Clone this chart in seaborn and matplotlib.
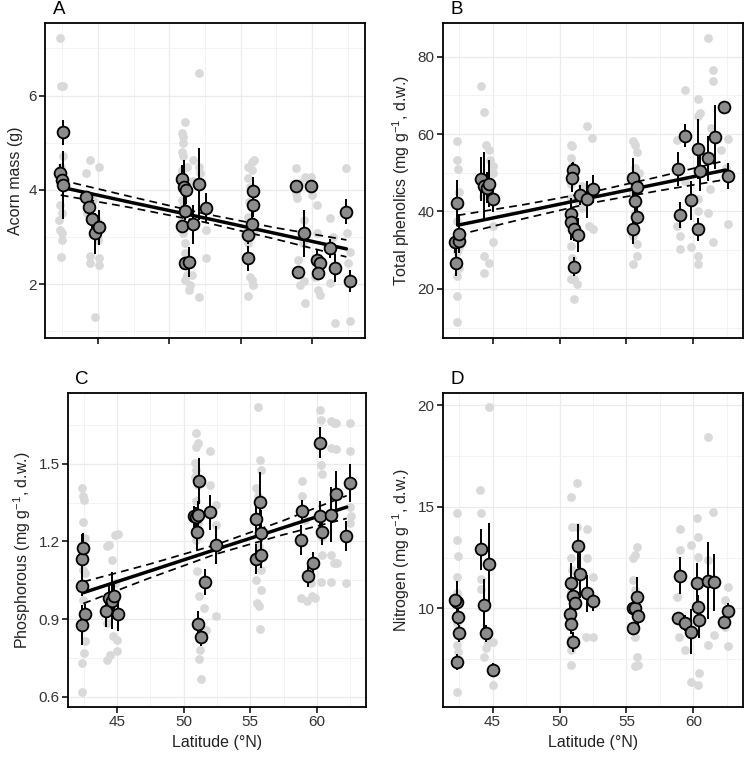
import numpy as np
import matplotlib
matplotlib.use('Agg')
import matplotlib.pyplot as plt
from matplotlib.ticker import MultipleLocator
import seaborn as sns

sns.set_theme(style='whitegrid')
plt.rcParams['font.family'] = ['Liberation Sans', 'DejaVu Sans']
plt.rcParams['mathtext.fontset'] = 'custom'
plt.rcParams['mathtext.rm'] = 'Liberation Sans'
plt.rcParams['mathtext.it'] = 'Liberation Sans:italic'
plt.rcParams['mathtext.bf'] = 'Liberation Sans:bold'

# ---------------------------------------------------------
# A. Acorn mass
# ---------------------------------------------------------
a_raw_lat = [42.35, 42.42, 42.58, 42.54, 42.42, 42.35, 42.47, 42.3, 42.35, 42.47, 42.47, 42.4, 42.58,
             44.17, 44.45, 45.1, 44.26, 44.92, 45.03, 44.45, 44.45, 45.1, 45.1, 44.8, 44.68,
             50.87, 50.94, 51.1, 50.94, 50.87, 50.98, 50.87, 51.22, 50.87, 50.94, 50.87, 50.98, 51.1, 51.1,
             51.22, 51.1, 51.45, 51.4, 51.68, 52.1, 52.1, 52.08, 52.55, 52.55, 51.57, 51.68, 52.15,
             55.53, 55.81, 55.93, 55.77, 55.53, 55.65, 55.6, 55.53, 55.53, 55.65, 55.77, 55.53, 55.83, 55.88,
             58.87, 58.87, 58.91, 59.15, 59.5, 59.89, 59.96, 59.43, 59.38, 59.03, 59.15, 59.43, 59.5,
             60.31, 60.36, 60.2, 60.43, 60.55, 61.25, 61.48, 61.25, 61.6, 62.37, 62.65, 62.65, 62.41, 62.53]
a_raw_val = [7.22, 6.2, 6.2, 4.71, 4.49, 3.68, 3.51, 3.36, 3.15, 3.08, 2.94, 2.57, 4.07,
             4.35, 4.64, 4.49, 3.51, 3.36, 2.94, 2.59, 2.45, 2.55, 2.41, 1.31, 3.79,
             5.2, 5.13, 5.45, 4.99, 4.81, 4.71, 4.42, 4.49, 3.79, 3.65, 3.43, 3.08, 2.87, 2.66,
             2.2, 2.09, 1.99, 1.87, 4.64, 4.49, 6.47, 1.74, 2.55, 3.15, 2.2, 4.18, 4.35,
             4.49, 4.6, 4.64, 4.42, 4.25, 4.07, 3.75, 3.43, 2.87, 2.16, 2.09, 1.75, 1.99, 3.08,
             4.46, 3.94, 3.82, 4.14, 4.28, 4.28, 3.89, 3.36, 2.87, 2.52, 1.99, 2.06, 1.6,
             3.68, 3.08, 2.16, 1.88, 1.77, 3.4, 3.01, 2.02, 1.17, 4.46, 2.69, 1.21, 3.08, 2.44]
a_mean_lat = [42.58, 42.35, 42.47, 42.54, 44.17, 44.4, 44.57, 44.8, 45.1,
              50.87, 51.03, 51.15, 51.1, 50.87, 51.1, 51.4, 51.68, 52.1, 52.55,
              55.88, 55.88, 55.8, 55.53, 55.53,
              58.87, 59.9, 59.4, 59.0, 60.36, 60.55, 60.43, 61.25, 61.6, 62.37, 62.65]
a_mean_val = [5.22, 4.35, 4.21, 4.1, 3.86, 3.63, 3.39, 3.08, 3.21,
              4.23, 4.07, 4.0, 3.56, 3.24, 2.45, 2.48, 3.27, 4.13, 3.61,
              3.98, 3.68, 3.28, 3.05, 2.55,
              4.08, 4.08, 3.08, 2.25, 2.52, 2.44, 2.23, 2.76, 2.34, 3.54, 2.07]
a_mean_se = [0.27, 0.2, 0.25, 0.72, 0.1, 0.15, 0.2, 0.44, 0.37,
             0.3, 0.56, 0.3, 0.2, 0.1, 0.1, 0.32, 0.42, 0.76, 0.32,
             0.3, 0.25, 0.35, 0.2, 0.26,
             0.05, 0.05, 0.5, 0.05, 0.2, 0.15, 0.1, 0.2, 0.3, 0.26, 0.23]
a_fit_lat = [42.4, 47.4, 52.4, 57.4, 62.4]
a_fit_mid = [4.06, 3.73, 3.41, 3.08, 2.75]
a_fit_lo = [3.89, 3.62, 3.32, 2.96, 2.58]
a_fit_hi = [4.21, 3.85, 3.50, 3.20, 2.94]

# ---------------------------------------------------------
# B. Total phenolics
# ---------------------------------------------------------
b_raw_lat = [42.33, 42.33, 42.4, 42.48, 42.33, 42.33, 42.33, 42.33, 42.33, 42.48, 42.48,
             44.13, 44.38, 44.5, 44.7, 44.83, 45.0, 45.05, 44.38, 44.38, 44.7, 45.0, 45.05, 44.26,
             50.82, 50.94, 50.82, 50.94, 50.82, 50.82, 50.82, 50.94, 50.82, 51.06, 51.06, 51.31,
             51.44, 51.68, 52.05, 52.43, 52.18, 52.47, 51.68,
             55.47, 55.64, 55.77, 55.64, 55.47, 55.64, 55.52, 55.77, 55.47, 55.77, 55.9,
             58.74, 59.36, 58.98, 58.98, 58.74, 59.36, 59.8, 60.35, 60.35, 60.47, 60.35, 60.35,
             60.35, 60.35, 60.59, 61.09, 61.46, 61.46, 61.09, 61.46, 61.34, 61.21, 62.57, 62.57,
             62.45, 62.08]
b_raw_val = [58.1, 53.4, 51.0, 45.0, 37.5, 29.4, 23.4, 18.2, 11.4, 25.5, 30.7,
             72.3, 65.8, 57.3, 56.0, 53.4, 51.7, 50.0, 28.5, 24.2, 26.8, 36.2, 32.0, 44.0,
             57.3, 56.8, 53.8, 51.7, 47.0, 43.5, 31.1, 28.1, 22.5, 22.5, 17.4, 21.2,
             41.8, 41.0, 62.0, 59.0, 36.2, 35.4, 46.5,
             58.1, 57.3, 55.3, 51.3, 44.8, 39.7, 33.7, 31.5, 26.4, 28.5, 50.0,
             58.5, 71.4, 33.7, 30.2, 36.2, 47.8, 30.7, 69.0, 64.6, 65.4, 43.1, 40.1,
             28.5, 26.4, 55.1, 84.7, 76.6, 73.6, 39.7, 32.0, 61.6, 45.7, 58.7, 36.7,
             51.3, 56.0]
b_mean_lat = [42.33, 42.23, 42.48, 42.48, 42.28, 44.13, 44.38, 44.55, 44.75, 45.07,
              50.82, 50.82, 50.99, 50.94, 51.06, 51.11, 51.36, 51.56, 52.05, 52.5,
              55.47, 55.77, 55.64, 55.79, 55.47,
              58.86, 59.4, 58.98, 59.78, 60.35, 60.47, 60.35, 61.1, 61.6, 62.28, 62.58]
b_mean_val = [42.2, 32.2, 32.4, 34.3, 26.8, 48.4, 46.5, 46.1, 47.2, 43.3,
              39.4, 37.3, 50.8, 48.7, 35.4, 25.7, 33.9, 44.2, 43.1, 45.9,
              48.7, 46.4, 42.7, 38.6, 35.4,
              51.0, 59.6, 39.0, 42.9, 56.1, 50.4, 35.4, 53.8, 59.2, 67.1, 49.1]
b_mean_se = [6.0, 3.0, 3.0, 5.0, 3.5, 5.8, 8.8, 4.0, 6.0, 3.4,
             4.0, 4.7, 2.0, 3.8, 3.0, 2.5, 4.3, 2.6, 4.7, 3.6,
             5.0, 3.0, 3.0, 2.5, 3.9,
             4.3, 3.0, 3.4, 5.0, 7.7, 5.0, 3.0, 5.8, 8.2, 0.5, 3.4]
b_fit_lat = [42.4, 47.4, 52.4, 57.4, 62.4]
b_fit_mid = [36.45, 40.0, 43.6, 47.15, 50.7]
b_fit_lo = [33.9, 38.2, 42.2, 45.35, 48.25]
b_fit_hi = [39.0, 41.8, 45.0, 48.95, 53.15]

# ---------------------------------------------------------
# C. Phosphorous
# ---------------------------------------------------------
c_raw_lat = [42.33, 42.46, 42.51, 42.46, 42.58, 42.41, 42.58, 42.51, 42.41, 42.58, 42.51, 42.33, 42.33,
             44.2, 44.4, 44.83, 45.07, 44.58, 44.2, 44.25, 44.45, 44.7, 44.95, 45.0, 44.83,
             50.94, 51.06, 50.94, 50.81, 50.94, 50.81, 51.06, 50.94, 51.06, 50.94, 50.99, 51.14,
             51.19, 51.14, 51.31, 51.56, 51.68, 51.98, 51.98, 52.43, 52.43, 52.43,
             55.55, 55.75, 55.8, 55.42, 55.55, 55.67, 55.42, 55.47, 55.62, 55.8, 55.75, 55.8,
             58.87, 58.92, 58.79, 59.12, 59.29, 59.54, 59.66, 59.86, 60.21, 60.29, 60.29, 60.36,
             60.36, 60.41, 60.29, 61.04, 61.29, 61.46, 61.04, 61.46, 61.04, 61.29, 61.54, 61.04,
             62.16, 62.53, 62.53, 62.53, 62.61, 62.53]
c_raw_val = [1.406, 1.374, 1.361, 1.275, 1.213, 1.091, 1.078, 1.026, 0.975, 0.814, 0.769, 0.73, 0.617,
             1.181, 1.187, 1.226, 1.23, 1.129, 0.885, 0.743, 0.762, 0.833, 0.82, 0.775, 1.039,
             1.618, 1.58, 1.567, 1.503, 1.477, 1.451, 1.419, 1.355, 1.271, 1.206, 1.084, 0.988,
             0.782, 0.745, 0.668, 0.942, 0.859, 1.548, 1.419, 0.91, 1.264, 1.342,
             1.721, 1.515, 1.477, 1.406, 1.374, 1.181, 1.052, 0.962, 0.949, 1.013, 0.861, 1.091,
             1.432, 1.374, 0.981, 1.284, 0.968, 1.039, 0.988, 0.981, 1.709, 1.67, 1.496, 1.461,
             1.219, 1.148, 1.045, 1.664, 1.657, 1.657, 1.561, 1.557, 1.148, 1.116, 1.116, 1.045,
             1.039, 1.657, 1.548, 1.335, 1.297, 1.271]
c_mean_lat = [42.33, 42.46, 42.33, 42.58, 42.33, 44.15, 44.4, 44.58, 44.75, 45.07,
              50.76, 50.94, 51.06, 50.98, 51.11, 51.06, 51.31, 51.63, 52.0, 52.43,
              55.42, 55.75, 55.8, 55.42, 55.8,
              58.87, 58.79, 59.37, 59.74, 60.24, 60.24, 60.36, 61.04, 61.46, 62.16, 62.53]
c_mean_val = [1.132, 1.174, 1.029, 0.92, 0.876, 0.933, 0.981, 0.971, 0.988, 0.92,
              1.297, 1.293, 1.303, 1.236, 1.434, 0.881, 0.829, 1.042, 1.312, 1.185,
              1.288, 1.352, 1.232, 1.132, 1.148,
              1.316, 1.204, 1.065, 1.116, 1.582, 1.3, 1.236, 1.303, 1.384, 1.222, 1.425]
c_mean_se = [0.097, 0.06, 0.04, 0.04, 0.077, 0.065, 0.06, 0.11, 0.06, 0.068,
             0.04, 0.04, 0.055, 0.07, 0.09, 0.05, 0.035, 0.05, 0.068, 0.074,
             0.06, 0.116, 0.09, 0.058, 0.05,
             0.045, 0.058, 0.04, 0.045, 0.06, 0.055, 0.05, 0.106, 0.09, 0.058, 0.074]
c_fit_lat = [42.45, 47.4, 52.4, 57.4, 62.25]
c_fit_mid = [1.002, 1.085, 1.169, 1.252, 1.333]
c_fit_lo = [0.960, 1.058, 1.151, 1.225, 1.289]
c_fit_hi = [1.044, 1.112, 1.187, 1.279, 1.377]

# ---------------------------------------------------------
# D. Nitrogen (no fit)
# ---------------------------------------------------------
d_raw_lat = [42.33, 42.33, 42.4, 42.33, 42.33, 42.33, 42.33, 42.4, 42.33,
             44.08, 44.13, 44.13, 44.13, 44.38, 44.5, 44.38, 44.63, 45.0, 44.75, 45.0,
             50.82, 50.94, 50.82, 50.89, 51.31, 50.94, 50.82, 50.89, 50.82, 50.82, 51.31,
             52.05, 52.05, 52.0, 52.47, 52.47,
             55.47, 55.64, 55.77, 55.52, 55.64, 55.64, 55.64, 55.77, 55.64, 55.84,
             58.98, 58.98, 58.74, 58.91, 59.36, 59.8, 59.8, 60.3, 60.35, 60.35, 60.35, 60.42,
             61.09, 61.09, 61.09, 61.46, 61.53, 62.33, 62.57, 62.57, 62.33]
d_raw_val = [14.7, 13.36, 12.57, 11.56, 10.77, 9.26, 8.2, 7.87, 5.9,
             15.85, 14.7, 11.43, 10.98, 8.77, 8.03, 7.62, 8.28, 8.36, 19.92, 6.23,
             12.46, 11.89, 10.82, 15.49, 16.18, 14.02, 9.26, 8.52, 7.95, 7.21, 14.02,
             13.93, 12.46, 8.61, 8.61, 11.56,
             12.46, 12.62, 13.03, 11.39, 10.9, 9.1, 8.61, 7.62, 7.16, 7.21,
             13.93, 12.87, 10.57, 8.61, 7.95, 13.11, 6.39, 14.43, 13.52, 12.54, 6.23, 6.8,
             18.44, 12.38, 8.2, 14.75, 8.69, 10.41, 11.07, 8.15, 9.1]
d_mean_lat = [42.33, 42.23, 42.4, 42.48, 42.33, 44.13, 44.38, 44.5, 44.75, 45.0,
              50.82, 50.75, 50.82, 51.01, 51.14, 50.99, 51.36, 51.56, 52.05, 52.5,
              55.47, 55.6, 55.77, 55.84, 55.47,
              58.98, 58.81, 59.4, 59.78, 60.3, 60.35, 60.42, 61.09, 61.53, 62.28, 62.58]
d_mean_val = [10.33, 10.4, 9.59, 8.77, 7.38, 12.9, 10.16, 8.77, 12.18, 6.97,
              11.23, 9.75, 9.23, 10.6, 10.28, 8.36, 13.07, 11.69, 10.74, 10.38,
              10.0, 10.0, 10.54, 9.62, 9.02,
              11.61, 9.51, 9.3, 8.85, 11.23, 10.08, 9.43, 11.36, 11.28, 9.35, 9.89]
d_mean_se = [1.0, 0.3, 0.4, 0.4, 0.4, 1.0, 1.3, 0.4, 2.0, 0.35,
             1.0, 0.5, 0.5, 0.6, 0.5, 0.5, 1.1, 1.2, 0.9, 0.5,
             0.3, 0.3, 1.0, 0.5, 0.3,
             0.9, 0.3, 0.4, 1.1, 1.0, 0.6, 0.9, 1.9, 1.4, 0.3, 0.4]

RAW_COL = '#d9d9d9'
MEAN_COL = '#8c8c8c'
TXT_COL = '#333333'


def draw_panel(ax, raw_lat, raw_val, m_lat, m_val, m_se, fit=None):
    sns.scatterplot(x=raw_lat, y=raw_val, color=RAW_COL, s=40, linewidth=0, ax=ax, zorder=1)
    if fit is not None:
        f_lat, f_mid, f_lo, f_hi = fit
        sns.lineplot(x=f_lat, y=f_lo, color='black', lw=1.25, linestyle=(0, (4.5, 3)), ax=ax, zorder=2)
        sns.lineplot(x=f_lat, y=f_hi, color='black', lw=1.25, linestyle=(0, (4.5, 3)), ax=ax, zorder=2)
        sns.lineplot(x=f_lat, y=f_mid, color='black', lw=2.5, ax=ax, zorder=2)
    ax.errorbar(m_lat, m_val, yerr=m_se, fmt='none', ecolor='black', elinewidth=1.4, zorder=3)
    sns.scatterplot(x=m_lat, y=m_val, color=MEAN_COL, edgecolor='black', linewidth=1.3, s=72,
                    ax=ax, zorder=4)


fig = plt.figure(figsize=(7.45, 7.62), dpi=100)
ax_a = fig.add_axes([45 / 745, 1 - 338 / 762, 320 / 745, 315 / 762])
ax_b = fig.add_axes([443 / 745, 1 - 338 / 762, 300 / 745, 315 / 762])
ax_c = fig.add_axes([68 / 745, 1 - 707 / 762, 298 / 745, 314 / 762])
ax_d = fig.add_axes([443 / 745, 1 - 707 / 762, 300 / 745, 314 / 762])

draw_panel(ax_a, a_raw_lat, a_raw_val, a_mean_lat, a_mean_val, a_mean_se,
           (a_fit_lat, a_fit_mid, a_fit_lo, a_fit_hi))
draw_panel(ax_b, b_raw_lat, b_raw_val, b_mean_lat, b_mean_val, b_mean_se,
           (b_fit_lat, b_fit_mid, b_fit_lo, b_fit_hi))
draw_panel(ax_c, c_raw_lat, c_raw_val, c_mean_lat, c_mean_val, c_mean_se,
           (c_fit_lat, c_fit_mid, c_fit_lo, c_fit_hi))
draw_panel(ax_d, d_raw_lat, d_raw_val, d_mean_lat, d_mean_val, d_mean_se)

ylabels = ['Acorn mass (g)',
           r'Total phenolics (mg g$^{-1}$, d.w.)',
           r'Phosphorous (mg g$^{-1}$, d.w.)',
           r'Nitrogen (mg g$^{-1}$, d.w.)']
ylims = [(0.86, 7.54), (7.3, 88.7), (0.56, 1.774), (5.15, 20.6)]
ymajor = [2, 20, 0.3, 5]
letters = ['A', 'B', 'C', 'D']

for i, ax in enumerate([ax_a, ax_b, ax_c, ax_d]):
    ax.set_xlim(41.3, 63.7)
    ax.set_ylim(*ylims[i])
    ax.xaxis.set_major_locator(MultipleLocator(5))
    ax.xaxis.set_minor_locator(MultipleLocator(2.5))
    ax.yaxis.set_major_locator(MultipleLocator(ymajor[i]))
    ax.yaxis.set_minor_locator(MultipleLocator(ymajor[i] / 2))
    ax.grid(which='major', color='#ebebeb', lw=0.9)
    ax.grid(which='minor', color='#f3f3f3', lw=0.7)
    ax.set_facecolor('white')
    for sp in ax.spines.values():
        sp.set_color('black')
        sp.set_linewidth(1.3)
    ax.tick_params(which='major', direction='out', length=4, width=1.1, color='black',
                   labelsize=11, labelcolor=TXT_COL, pad=2, bottom=True, left=True)
    ax.tick_params(which='minor', length=0)
    ax.set_ylabel(ylabels[i], fontsize=11.5, color='#222222', labelpad=4)
    ax.text(0.025, 1.015, letters[i], transform=ax.transAxes, fontsize=13.5,
            ha='left', va='bottom', color='black')
    if i < 2:
        ax.set_xlabel('')
        ax.tick_params(labelbottom=False)
    else:
        ax.set_xlabel('Latitude (°N)', fontsize=11.5, color='#222222', labelpad=4)

fig.savefig('out.png', dpi=100)
